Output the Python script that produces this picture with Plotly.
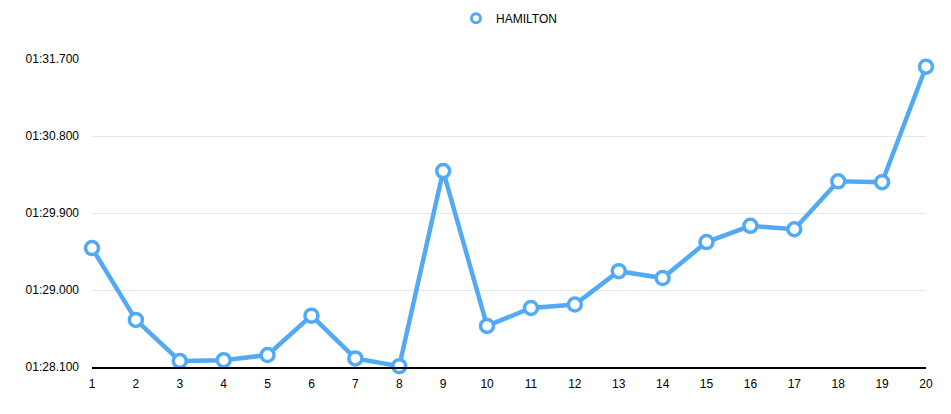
import plotly.graph_objects as go

laps = list(range(1, 21))
lap_times = [89.49, 88.65, 88.17, 88.18, 88.24, 88.70, 88.20, 88.11, 90.39, 88.58,
             88.79, 88.83, 89.22, 89.14, 89.56, 89.75, 89.71, 90.27, 90.26, 91.61]
tick_vals = [88.1, 89.0, 89.9, 90.8, 91.7]
tick_text = ["01:28.100", "01:29.000", "01:29.900", "01:30.800", "01:31.700"]
series_name = "HAMILTON"

blue = "rgb(82,170,245)"

fig = go.Figure()
fig.add_trace(go.Scatter(
    x=laps, y=lap_times, mode="lines+markers", name=series_name, showlegend=False,
    line=dict(color=blue, width=4.5),
    marker=dict(size=13, color="white", line=dict(color=blue, width=3.5)),
    cliponaxis=False,
))
fig.add_trace(go.Scatter(
    x=[None], y=[None], mode="markers", name=series_name,
    marker=dict(size=9, color="white", line=dict(color=blue, width=3)),
))

fig.update_layout(
    width=951, height=414,
    margin=dict(l=92, r=25, t=59, b=47),
    paper_bgcolor="white", plot_bgcolor="white",
    font=dict(family="Liberation Sans, Arial, sans-serif", size=12, color="black"),
    legend=dict(orientation="h", x=0.5, xanchor="center", y=0.956, yanchor="middle",
                yref="container", font=dict(size=12)),
    xaxis=dict(range=[1, 20], tickmode="array", tickvals=laps, showgrid=False,
               zeroline=False, showline=True, linecolor="black", linewidth=1.5,
               ticks="", ticklabelstandoff=5),
    yaxis=dict(range=[88.1, 91.7], tickmode="array", tickvals=tick_vals, ticktext=tick_text,
               showgrid=True, gridcolor="#e6e6e6", gridwidth=1, zeroline=False,
               showline=False, ticks="", ticklabelstandoff=12),
)

fig.write_html("out.html")
